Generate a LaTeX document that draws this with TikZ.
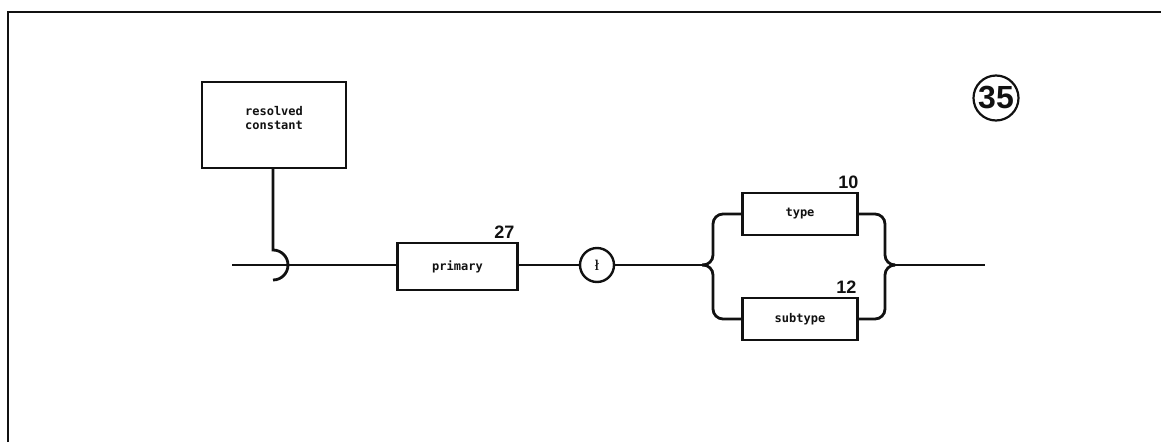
\documentclass[tikz,border=0pt]{standalone}
\usepackage{fontspec}
\setsansfont{Liberation Sans}
\newfontfamily\boxfont{DejaVu Sans Mono}
\usepackage{tikz}
\usetikzlibrary{positioning, calc}
\definecolor{inkBlack}{HTML}{111111}

\tikzset{
  synbox/.style={draw=inkBlack, line width=2.4pt, rectangle, inner sep=0pt,
    font=\boxfont\bfseries\fontsize{12}{13.5}\selectfont, text=inkBlack, align=center},
  synline/.style={draw=inkBlack, line width=2.8pt},
  reflbl/.style={font=\sffamily\bfseries\fontsize{18}{18}\selectfont, text=inkBlack,
    inner sep=0pt, anchor=south east},
}

\begin{document}
\begin{tikzpicture}[x=1pt, y=-1pt]
  \useasboundingbox (0,0) rectangle (1161,442);
  % page frame
  \draw[line width=2.6pt, draw=inkBlack] (8,442) -- (8,12) -- (1161,12);

  \node[synbox, minimum width=144pt, minimum height=86pt] (rcbox) at (274,125) {};
  \node[font=\boxfont\bfseries\fontsize{12}{13.5}\selectfont, text=inkBlack, align=center,
        inner sep=0pt] (rctext) at (274,118) {resolved\\constant};
  \node[synbox, minimum width=120pt, minimum height=47pt] (primbox) at (457.5,266.5) {primary};
  \node[circle, draw=inkBlack, line width=2.4pt, minimum size=34pt, inner sep=0pt,
        font=\fontsize{15}{15}\selectfont\bfseries, text=inkBlack] (tickcirc) at (597,265) {ł};
  \node[synbox, minimum width=115pt, minimum height=42pt] (typebox) at (800,214) {type};
  \node[synbox, minimum width=115pt, minimum height=42pt] (subtypebox) at (800,319) {subtype};

  \node[reflbl] (n27) at ([xshift=-4pt, yshift=3pt]primbox.north east) {27};
  \node[reflbl] (n10) at ([yshift=3pt]typebox.north east) {10};
  \node[reflbl] (n12) at ([xshift=-2pt, yshift=3pt]subtypebox.north east) {12};

  \node[circle, draw=inkBlack, line width=2.2pt, minimum size=45pt, inner sep=0pt,
        font=\sffamily\bfseries\fontsize{32}{32}\selectfont, text=inkBlack] (numcirc) at (996,98) {35};

  \coordinate (linestart) at (232,265);
  \coordinate (hooktop) at (273,250);
  \coordinate (jleft) at (702,265);
  \coordinate (jright) at (895,265);
  \coordinate (lineend) at (985,265);

  \draw[synline] (linestart) -- (primbox.west |- linestart);
  \draw[synline] (rcbox.south -| hooktop) -- (hooktop) arc[start angle=90, end angle=-90, radius=15pt];
  \draw[synline] (primbox.east |- tickcirc) -- (tickcirc.west);
  \draw[synline] (tickcirc.east) -- (jleft);
  \draw[synline, rounded corners=10pt] (typebox.west) -- (713,214) -- (713,265) -- (jleft);
  \draw[synline, rounded corners=10pt] (subtypebox.west) -- (713,319) -- (713,265) -- (jleft);
  \draw[synline, rounded corners=10pt] (typebox.east) -- (885,214) -- (885,265) -- (jright);
  \draw[synline, rounded corners=10pt] (subtypebox.east) -- (885,319) -- (885,265) -- (jright);
  \draw[synline] (jright) -- (lineend);
\end{tikzpicture}
\end{document}
